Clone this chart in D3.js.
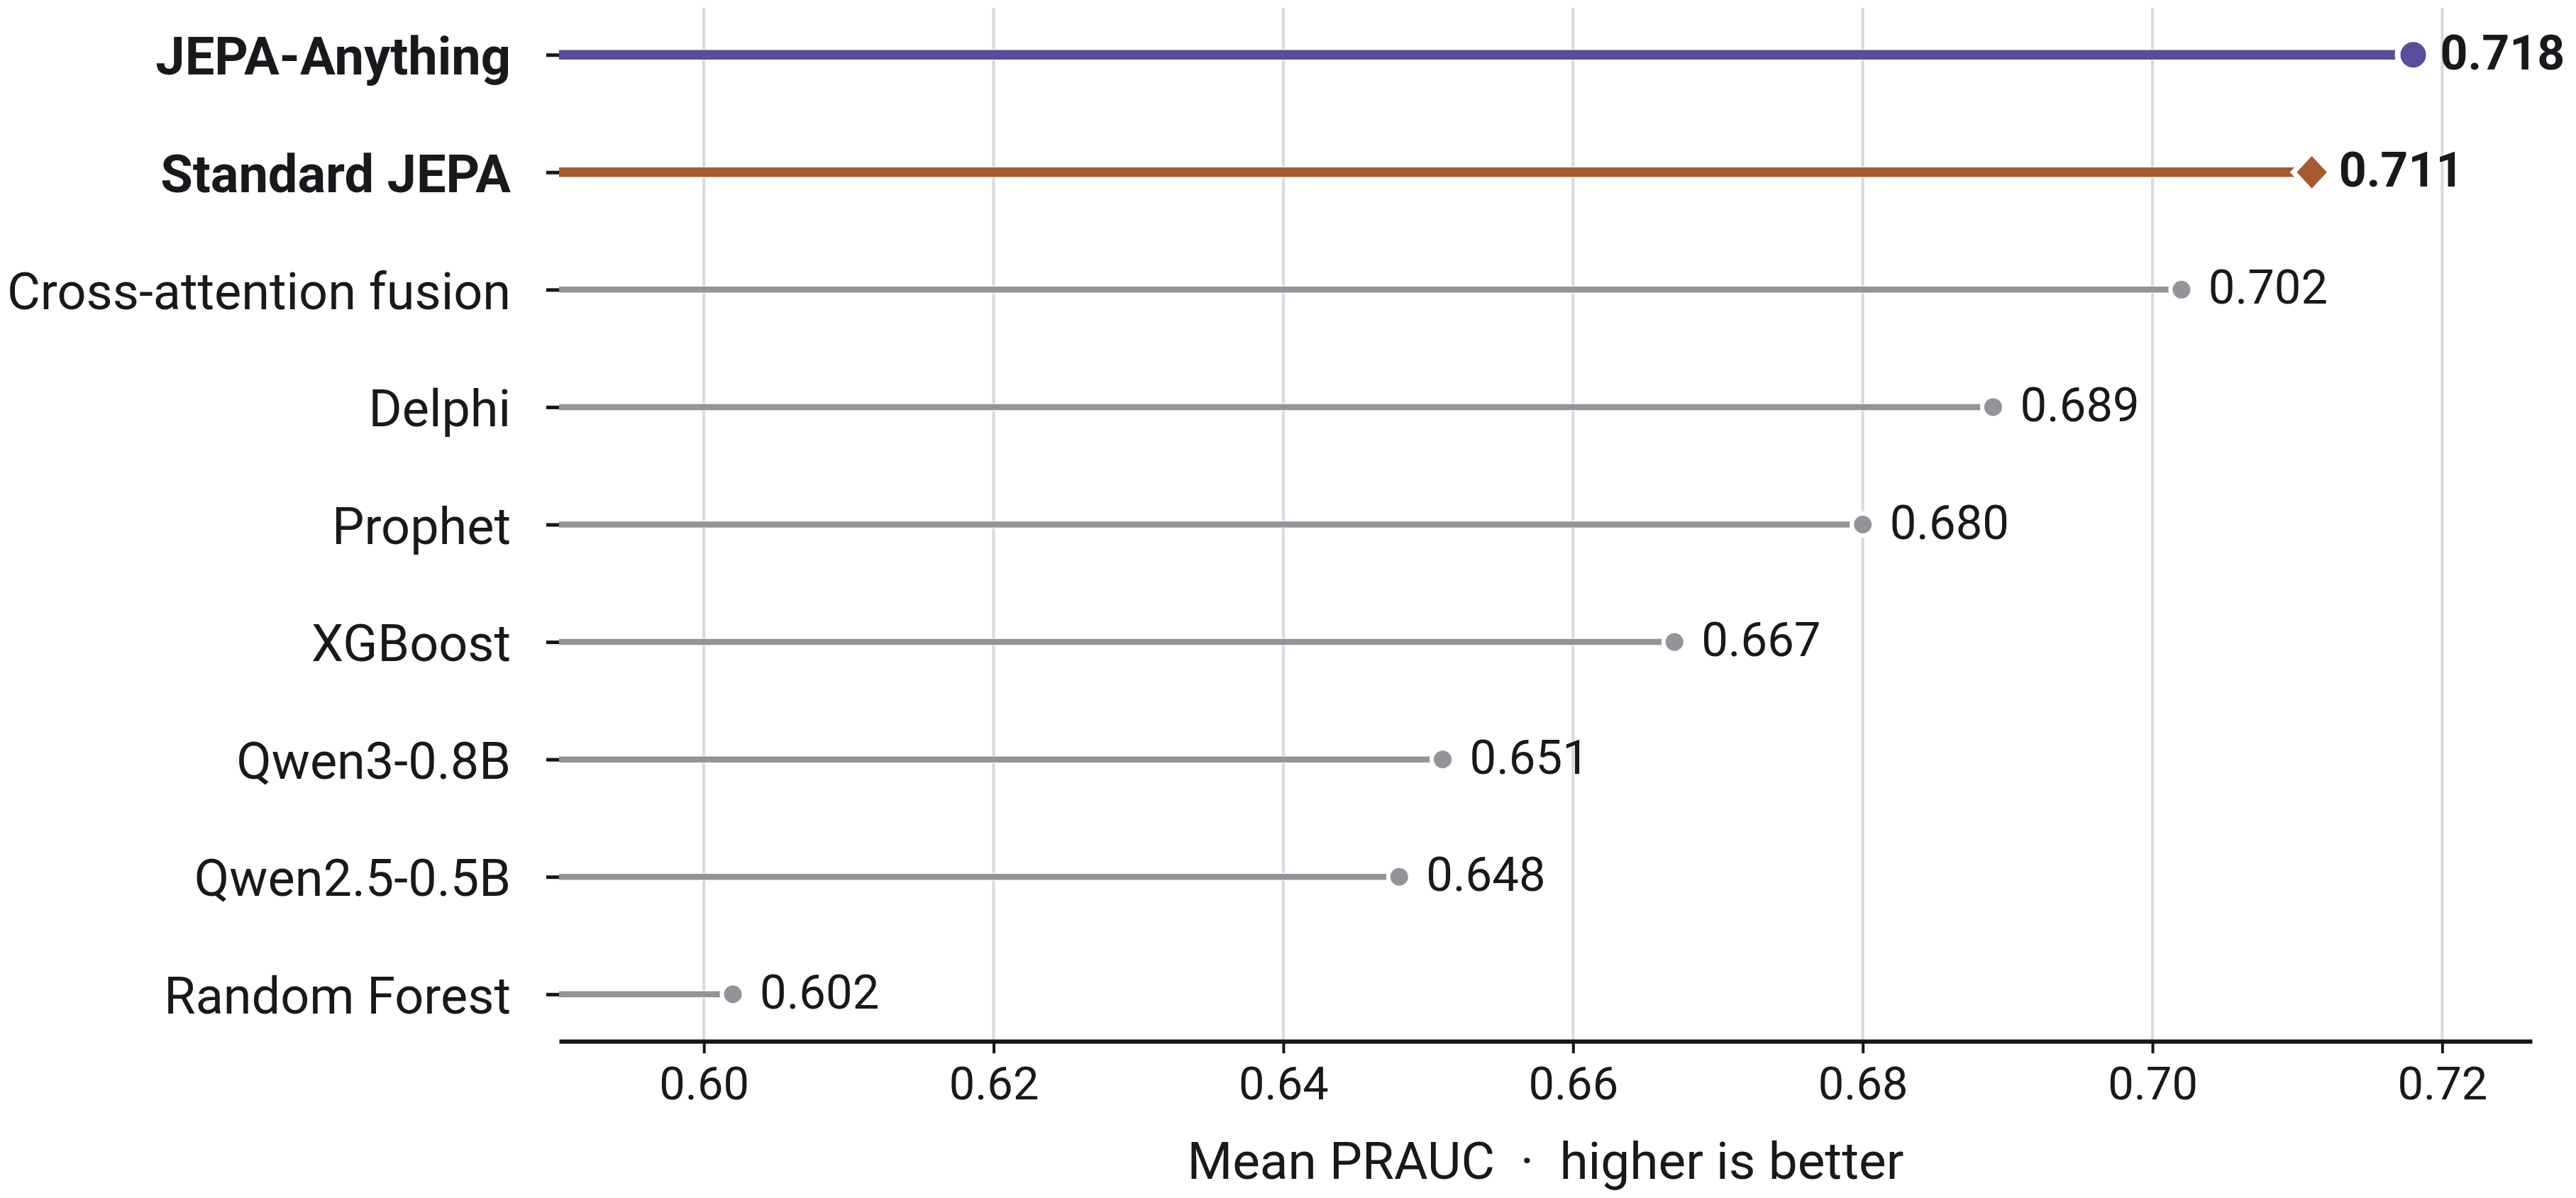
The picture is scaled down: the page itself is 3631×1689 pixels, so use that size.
<!DOCTYPE html>
<html>
<head>
<meta charset="utf-8">
<script src="https://cdn.jsdelivr.net/npm/d3@7"></script>
<style>
  html, body { margin: 0; padding: 0; background: #ffffff; }
  svg { display: block; }
  text { font-family: Roboto, "Noto Sans", sans-serif; fill: #18181d; }
</style>
</head>
<body>
<script>
// ---- data ----
const categories = ["JEPA-Anything", "Standard JEPA", "Cross-attention fusion", "Delphi", "Prophet", "XGBoost", "Qwen3-0.8B", "Qwen2.5-0.5B", "Random Forest"];
const values = [0.718, 0.711, 0.702, 0.689, 0.680, 0.667, 0.651, 0.648, 0.602];
const highlighted = ["JEPA-Anything", "Standard JEPA"];
const xTicks = [0.60, 0.62, 0.64, 0.66, 0.68, 0.70, 0.72];
const xDomain = [0.59, 0.7262];
const xLabel = "Mean PRAUC  \u00b7  higher is better";

// ---- styles ----
const W = 3631, H = 1689;
const plot = { left: 788, right: 3569, top: 11, bottom: 1468 };
const style = {
  "JEPA-Anything": { color: "#5a4c9b", width: 13.5, marker: "circle", r: 22, ring: 4, bold: true },
  "Standard JEPA": { color: "#a65a2f", width: 13.5, marker: "diamond", r: 28, ring: 3.5, bold: true },
  other: { color: "#939399", width: 8.5, marker: "circle", r: 15.5, ring: 3, bold: false }
};
const sty = c => style[c] || style.other;

const svg = d3.select("body").append("svg").attr("width", W).attr("height", H);
svg.append("rect").attr("width", W).attr("height", H).attr("fill", "#ffffff");

const x = d3.scaleLinear().domain(xDomain).range([plot.left, plot.right]);
const y = d3.scalePoint().domain(categories).range([plot.top, plot.bottom]).padding(0.4);

// gridlines
svg.append("g").selectAll("line").data(xTicks).join("line")
  .attr("x1", d => x(d)).attr("x2", d => x(d))
  .attr("y1", plot.top).attr("y2", plot.bottom)
  .attr("stroke", "#d8d8de").attr("stroke-width", 4);

// x axis
const xAxis = d3.axisBottom(x).tickValues(xTicks).tickFormat(d3.format(".2f"))
  .tickSize(17).tickSizeOuter(0).tickPadding(19);
const gx = svg.append("g").attr("transform", `translate(0,${plot.bottom})`).call(xAxis);
gx.select(".domain").attr("stroke", "#15151a").attr("stroke-width", 6);
gx.selectAll(".tick line").attr("stroke", "#15151a").attr("stroke-width", 4);
gx.selectAll(".tick text").attr("font-size", 65).attr("fill", "#18181d")
  .style("font-family", "Roboto, sans-serif");

// y axis
const yAxis = d3.axisLeft(y).tickSize(18).tickPadding(50);
const gy = svg.append("g").attr("transform", `translate(${plot.left},0)`).call(yAxis);
gy.select(".domain").remove();
gy.selectAll(".tick line").attr("stroke", "#15151a").attr("stroke-width", 5);
gy.selectAll(".tick text")
  .attr("font-size", d => sty(d).bold ? 74 : 72).attr("dy", "0.37em").attr("fill", "#18181d")
  .attr("font-weight", d => sty(d).bold ? 700 : 400)
  .style("font-family", "Roboto, sans-serif");

const data = categories.map((c, i) => ({ c, v: values[i] }));

// stems (white halo + colored)
const stems = svg.append("g");
stems.selectAll("line.halo").data(data).join("line").attr("class", "halo")
  .attr("x1", x(xDomain[0])).attr("x2", d => x(d.v))
  .attr("y1", d => y(d.c)).attr("y2", d => y(d.c))
  .attr("stroke", "#ffffff").attr("stroke-width", d => sty(d.c).width + 2);
stems.selectAll("line.stem").data(data).join("line").attr("class", "stem")
  .attr("x1", x(xDomain[0])).attr("x2", d => x(d.v))
  .attr("y1", d => y(d.c)).attr("y2", d => y(d.c))
  .attr("stroke", d => sty(d.c).color).attr("stroke-width", d => sty(d.c).width);

// markers
const marks = svg.append("g");
marks.selectAll("path").data(data).join("path")
  .attr("transform", d => `translate(${x(d.v)},${y(d.c)})`)
  .attr("d", d => {
    const s = sty(d.c);
    if (s.marker === "diamond") return `M0,${-s.r}L${s.r * 0.93},0L0,${s.r}L${-s.r * 0.93},0Z`;
    return d3.arc()({ innerRadius: 0, outerRadius: s.r, startAngle: 0, endAngle: 2 * Math.PI });
  })
  .attr("fill", d => sty(d.c).color)
  .attr("stroke", "#ffffff").attr("stroke-width", d => sty(d.c).ring * 2);

// value labels
svg.append("g").selectAll("text").data(data).join("text")
  .attr("x", d => x(d.v) + 38).attr("y", d => y(d.c)).attr("dy", "0.3em")
  .attr("font-size", d => sty(d.c).bold ? 68 : 67)
  .attr("font-weight", d => sty(d.c).bold ? 700 : 400)
  .text(d => d3.format(".3f")(d.v));

// x label
svg.append("text")
  .attr("x", (plot.left + plot.right) / 2).attr("y", 1662)
  .attr("text-anchor", "middle").attr("font-size", 73)
  .style("white-space", "pre").attr("xml:space", "preserve")
  .text(xLabel);
</script>
</body>
</html>
